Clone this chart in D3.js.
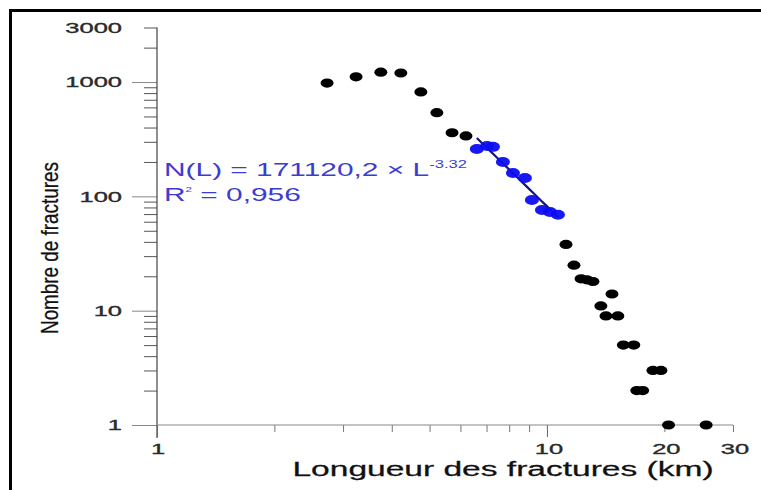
<!DOCTYPE html>
<html>
<head>
<meta charset="utf-8">
<script src="https://cdn.jsdelivr.net/npm/d3@7"></script>
<style>
  html, body { margin: 0; padding: 0; background: #fff; }
  svg { display: block; }
  text { font-family: "Liberation Sans", Arial, sans-serif; }
</style>
</head>
<body>
<svg id="chart" width="761" height="490"></svg>
<script>
// ---- data ----
const lengthBlack = [2.73, 3.24, 3.75, 4.22, 4.75, 5.22, 5.71, 6.20,
                     11.19, 11.73, 12.23, 12.66, 13.12, 14.68, 13.75, 14.17, 15.2,
                     15.7, 16.7, 17.0, 17.6, 18.7, 19.6, 20.5, 25.6];
const countBlack  = [980, 1110, 1220, 1200, 820, 540, 360, 338,
                     38, 25, 19, 18.6, 18, 14, 11, 9, 9,
                     5, 5, 2, 2, 3, 3, 1, 1];
const lengthBlue  = [6.61, 7.02, 7.27, 7.71, 8.18, 8.78, 9.15, 9.71, 10.18, 10.67];
const countBlue   = [260, 276, 271, 200, 160, 145, 93, 76, 73, 69];
const fitCoef = 171120.2;
const fitExp = -3.32;
const xMajorTicks = [1, 10];
const xMinorTicks = [2, 3, 4, 5, 6, 7, 8, 9, 20, 30];
const xTickLabels = [1, 10, 20, 30];
const yMajorTicks = [1, 10, 100, 1000];
const yLabelTicks = [1, 10, 100, 1000, 3000];
const yMinorTicks = [2,3,4,5,6,7,8,9,20,30,40,50,60,70,80,90,200,300,400,500,600,700,800,900,2000,3000];

// ---- layout ----
const svg = d3.select("#chart");
const SX = 1.7; // horizontal stretch of the original artwork's text
const x = d3.scaleLog().domain([1, 30]).range([157, 733]);
const y = d3.scaleLog().domain([1, 3000]).range([425, 27.5]);

// frame
svg.append("rect").attr("x", 10.5).attr("y", 10.5).attr("width", 800).attr("height", 520)
  .attr("fill", "none").attr("stroke", "#000").attr("stroke-width", 3);

// Y axis: minor ticks
const gyMinor = svg.append("g").attr("transform", "translate(157,0)")
  .call(d3.axisLeft(y).tickValues(yMinorTicks).tickSize(13).tickFormat(""));
gyMinor.select(".domain").remove();
gyMinor.selectAll(".tick line").attr("stroke", "#555").attr("stroke-width", 1);

// Y axis: major ticks
const gyMajor = svg.append("g").attr("transform", "translate(157,0)")
  .call(d3.axisLeft(y).tickValues(yMajorTicks).tickSize(25).tickFormat(""));
gyMajor.select(".domain").remove();
gyMajor.selectAll(".tick line").attr("stroke", "#888").attr("stroke-width", 1);

// Y axis line
svg.append("line").attr("x1", x(1)).attr("x2", x(1)).attr("y1", y(3000)).attr("y2", y(1) + 13)
  .attr("stroke", "#444").attr("stroke-width", 1.2);

// X axis
const gxMinor = svg.append("g").attr("transform", `translate(0,${y(1)})`)
  .call(d3.axisBottom(x).tickValues(xMinorTicks).tickSize(7).tickFormat(""));
gxMinor.select(".domain").remove();
gxMinor.selectAll(".tick line").attr("stroke", "#777");
const gxMajor = svg.append("g").attr("transform", `translate(0,${y(1)})`)
  .call(d3.axisBottom(x).tickValues(xMajorTicks).tickSize(12).tickFormat(""));
gxMajor.select(".domain").remove();
gxMajor.selectAll(".tick line").attr("stroke", "#666");
svg.append("line").attr("x1", x(1)).attr("x2", x(30)).attr("y1", y(1)).attr("y2", y(1))
  .attr("stroke", "#888").attr("stroke-width", 1);

// stretched text helper
function stext(px, py, str, size, anchor, color) {
  const g = svg.append("g").attr("transform", `translate(${px},${py}) scale(${SX},1)`);
  return g.append("text").attr("font-size", size).attr("text-anchor", anchor || "start")
    .attr("fill", color || "#222").attr("stroke", color || "#222").attr("stroke-width", 0.35)
    .text(str);
}

// Y tick labels
yLabelTicks.forEach(v => {
  stext(122, y(v) + 5.3, d3.format("d")(v), 15, "end", "#2a2a2a");
});
// X tick labels
xTickLabels.forEach(v => {
  stext(x(v) + (v === 1 ? 1 : 2), 454, String(v), 15, "middle", "#2a2a2a");
});

// axis titles
svg.append("g").attr("transform", "translate(503,476) scale(1.72,1)")
  .append("text").attr("font-size", 19.5).attr("text-anchor", "middle").attr("fill", "#111")
  .attr("stroke", "#111").attr("stroke-width", 0.25)
  .text("Longueur des fractures (km)");
svg.append("text")
  .attr("transform", "translate(58,248) rotate(-90)")
  .attr("font-family", "'Liberation Sans Narrow', 'Liberation Sans', Arial, sans-serif")
  .attr("font-size", 24).attr("text-anchor", "middle").attr("fill", "#111")
  .attr("stroke", "#111").attr("stroke-width", 0.3)
  .attr("textLength", 172).attr("lengthAdjust", "spacingAndGlyphs")
  .text("Nombre de fractures");

// black points
svg.append("g").selectAll("ellipse").data(lengthBlack.map((L, i) => [L, countBlack[i]]))
  .join("ellipse")
  .attr("cx", d => x(d[0])).attr("cy", d => y(d[1]))
  .attr("rx", 6.5).attr("ry", 4.6).attr("fill", "#000");

// fit line
const Lmin = d3.min(lengthBlue), Lmax = d3.max(lengthBlue);
const fitPts = d3.range(0, 21).map(i => {
  const L = Lmin * Math.pow(Lmax / Lmin, i / 20);
  return [L, fitCoef * Math.pow(L, fitExp)];
});
svg.append("path").datum(fitPts)
  .attr("d", d3.line().x(d => x(d[0])).y(d => y(d[1])))
  .attr("fill", "none").attr("stroke", "#14147a").attr("stroke-width", 2.2);

// blue points
svg.append("g").selectAll("ellipse").data(lengthBlue.map((L, i) => [L, countBlue[i]]))
  .join("ellipse")
  .attr("cx", d => x(d[0])).attr("cy", d => y(d[1]))
  .attr("rx", 7).attr("ry", 5).attr("fill", "#0c0cf2").attr("fill-opacity", 0.95);

// equation text
const eqColor = "#3c3cd2";
const EQX = 1.66;
const eq = svg.append("g").attr("transform", `translate(164,176) scale(${EQX},1)`)
  .append("text").attr("font-size", 18).attr("fill", eqColor);
eq.append("tspan").text("N(L) = " + String(fitCoef).replace(".", ",") + " \u00d7 L");
eq.append("tspan").attr("font-size", 10).attr("dy", -8).text(String(fitExp));

const r2 = svg.append("g").attr("transform", `translate(164,201) scale(${EQX},1)`)
  .append("text").attr("font-size", 18).attr("fill", eqColor);
r2.append("tspan").text("R");
r2.append("tspan").attr("font-size", 7).attr("dy", -9).text("2");
r2.append("tspan").attr("dy", 9).text(" = 0,956");
</script>
</body>
</html>
